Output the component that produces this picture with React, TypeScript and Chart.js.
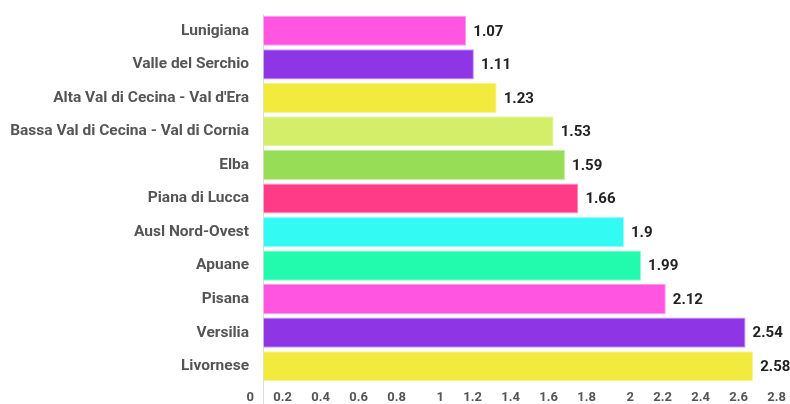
import React, { useEffect, useRef } from "react";
import { Chart, registerables } from "chart.js";

Chart.register(...registerables);

const categories = [
  "Lunigiana",
  "Valle del Serchio",
  "Alta Val di Cecina - Val d'Era",
  "Bassa Val di Cecina - Val di Cornia",
  "Elba",
  "Piana di Lucca",
  "Ausl Nord-Ovest",
  "Apuane",
  "Pisana",
  "Versilia",
  "Livornese",
];
const values = [1.07, 1.11, 1.23, 1.53, 1.59, 1.66, 1.9, 1.99, 2.12, 2.54, 2.58];
const barColors = [
  "#ff55e0",
  "#8e35e6",
  "#f2ea3c",
  "#d4ee6a",
  "#97dd55",
  "#ff3a86",
  "#33fbf3",
  "#22fbae",
  "#ff55e0",
  "#8e35e6",
  "#f2ea3c",
];
const borderColors = [
  "#ff9bee",
  "#c79df2",
  "#f8f49d",
  "#e9f6b4",
  "#cbeeaa",
  "#ff9cc2",
  "#99fdf9",
  "#90fdd6",
  "#ff9bee",
  "#c79df2",
  "#f8f49d",
];

const FONT = "Roboto, 'Noto Sans', sans-serif";

const valueLabels = {
  id: "valueLabels",
  afterDatasetsDraw(chart: any) {
    const ctx = chart.ctx;
    const meta = chart.getDatasetMeta(0);
    ctx.save();
    ctx.font = `bold 15px ${FONT}`;
    ctx.fillStyle = "#222";
    ctx.textAlign = "left";
    ctx.textBaseline = "middle";
    meta.data.forEach((bar: any, i: number) => {
      ctx.fillText(String(values[i]), bar.x + 7, bar.y + 1);
    });
    ctx.restore();
  },
};

export default function App() {
  const ref = useRef<HTMLCanvasElement>(null);
  useEffect(() => {
    if (!ref.current) return;
    const chart = new Chart(ref.current, {
      type: "bar",
      data: {
        labels: categories,
        datasets: [
          {
            data: values,
            backgroundColor: barColors,
            borderColor: borderColors,
            borderWidth: 1,
            barPercentage: 0.9,
            categoryPercentage: 1,
          },
        ],
      },
      options: {
        indexAxis: "y",
        animation: false,
        responsive: false,
        layout: { padding: { top: 14, right: 5, left: 0, bottom: 0 } },
        plugins: { legend: { display: false }, tooltip: { enabled: false } },
        scales: {
          y: {
            grid: { display: false, drawTicks: false },
            border: { display: false },
            afterFit: (s: any) => {
              s.width = 263;
              s.paddingTop = 0;
              s.paddingBottom = 0;
            },
            ticks: {
              padding: 14,
              color: "#555",
              font: { family: FONT, size: 15.5, weight: "bold" },
            },
          },
          x: {
            min: 0,
            max: 2.8,
            border: { display: false },
            afterFit: (s: any) => {
              s.height = 21;
              s.paddingLeft = 0;
              s.paddingRight = 0;
            },
            grid: {
              drawOnChartArea: true,
              drawTicks: true,
              tickLength: 21,
              color: (c: any) => (c.index === 0 ? "#dcdcdc" : "rgba(0,0,0,0)"),
            },
            ticks: {
              stepSize: 0.2,
              align: "end",
              labelOffset: -9,
              padding: -14,
              color: "#555",
              font: { family: FONT, size: 13, weight: "bold" },
              callback: (v: any) => String(Number(Number(v).toFixed(1))),
            },
          },
        },
      },
      plugins: [valueLabels],
    } as any);
    return () => chart.destroy();
  }, []);
  return (
    <div
      style={{
        position: "fixed",
        left: 0,
        top: 0,
        width: 790,
        height: 404,
        overflow: "hidden",
        background: "#fff",
      }}
    >
      <canvas ref={ref} width={800} height={404} style={{ display: "block" }} />
    </div>
  );
}
